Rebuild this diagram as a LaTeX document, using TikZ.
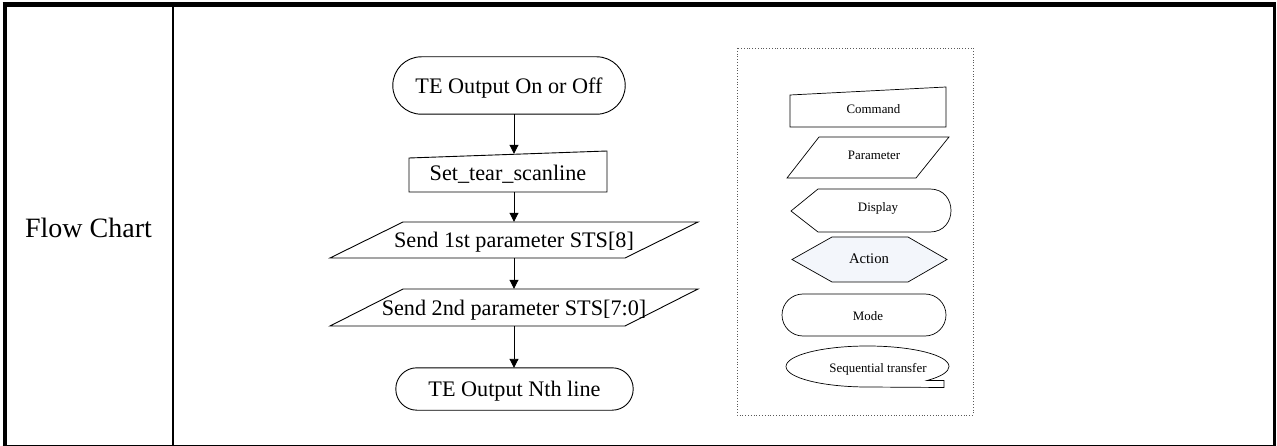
\documentclass[tikz,border=0pt]{standalone}
\usepackage{fontspec}
\setmainfont{Liberation Serif}
\usetikzlibrary{arrows.meta,calc}
\definecolor{actfill}{HTML}{F3F6FB}
\begin{document}
\begin{tikzpicture}[x=1pt,y=-1pt,
  shp/.style={draw=black,line width=0.9pt},
  lshp/.style={draw=black,line width=0.7pt},
  flowtxt/.style={font=\fontsize{22.2}{25}\selectfont,inner sep=0pt,draw=none,text depth=0pt},
  legtxt/.style={font=\fontsize{12.9}{14}\selectfont,inner sep=0pt,draw=none,text depth=0pt},
  arr/.style={line width=0.9pt,-{Triangle[length=9pt,width=9pt]}}]
\useasboundingbox (0,0) rectangle (1277,446);
% table frame
\draw[line width=4.5pt] (2.5,4.75) -- (1275.7,4.75);
\draw[line width=4pt] (4.7,2.5) -- (4.7,446);
\draw[line width=2.7pt] (1274.4,2.5) -- (1274.4,446);
\draw[line width=1.3pt] (2.5,445.2) -- (1275.7,445.2);
\draw[line width=1.3pt] (173,4) -- (173,445);
\node[font=\fontsize{28}{31}\selectfont,inner sep=0pt,text depth=0pt] (lbl) at (88.5,228) {Flow Chart};
% flow chart
\node[flowtxt,minimum width=232pt,minimum height=57pt] (s1) at (509,85.5) {TE Output On or Off};
\draw[shp,rounded corners=28.5pt] (s1.north west) rectangle (s1.south east);
\node[flowtxt,minimum width=198pt,minimum height=38pt] (m1) at (508,173) {Set\_tear\_scanline};
\draw[shp] (409,158) -- (607,151) -- (607,192) -- (409,192) -- cycle;
\node[flowtxt,minimum width=295pt,minimum height=36pt] (p1) at (514,240) {Send 1st parameter STS[8]};
\draw[shp] (403,222) -- (698,222) -- (625,258) -- (330,258) -- cycle;
\node[flowtxt,minimum width=295pt,minimum height=37pt] (p2) at (514,307.5) {Send 2nd parameter STS[7:0]};
\draw[shp] (403,289) -- (698,289) -- (625,326) -- (330,326) -- cycle;
\node[flowtxt,minimum width=237pt,minimum height=42pt] (s2) at (514.5,389) {TE Output Nth line};
\draw[shp,rounded corners=21pt] (s2.north west) rectangle (s2.south east);
\coordinate (ax) at (514,0);
\draw[arr] (s1.south -| ax) -- (m1.north -| ax);
\draw[arr] (m1.south -| ax) -- (p1.north -| ax);
\draw[arr] (p1.south -| ax) -- (p2.north -| ax);
\draw[arr] (p2.south -| ax) -- (s2.north -| ax);
% legend
\draw[gray!70!black,dotted,line width=0.8pt] (737,48) rectangle (973,415);
\draw[lshp] (790,95) -- (946,87) -- (946,127) -- (790,127) -- cycle;
\node[legtxt] (lcmd) at (873.5,109) {Command};
\draw[lshp] (819,137) -- (949,137) -- (916,178) -- (787,178) -- cycle;
\node[legtxt] (lpar) at (874,155) {Parameter};
\draw[lshp] (791,211) -- (818,189) -- (930,189) .. controls (958,189) and (958,232) .. (930,232) -- (818,232) -- cycle;
\node[legtxt] (ldisp) at (878,207.5) {Display};
\draw[lshp,fill=actfill] (792,259.5) -- (832,237) -- (908,237) -- (947,259.5) -- (908,282) -- (832,282) -- cycle;
\node[legtxt,font=\fontsize{14.7}{16}\selectfont] (lact) at (869,259) {Action};
\draw[lshp,rounded corners=21pt] (782,294) rectangle (946,336);
\node[legtxt] (lmode) at (868,316.5) {Mode};
\draw[lshp] (867.5,387) arc[start angle=90,end angle=403,x radius=81.5,y radius=20.5] -- (944,380.5) -- (944,387.5) -- cycle;
\node[legtxt] (lseq) at (878,367.5) {Sequential transfer};
\end{tikzpicture}
\end{document}
